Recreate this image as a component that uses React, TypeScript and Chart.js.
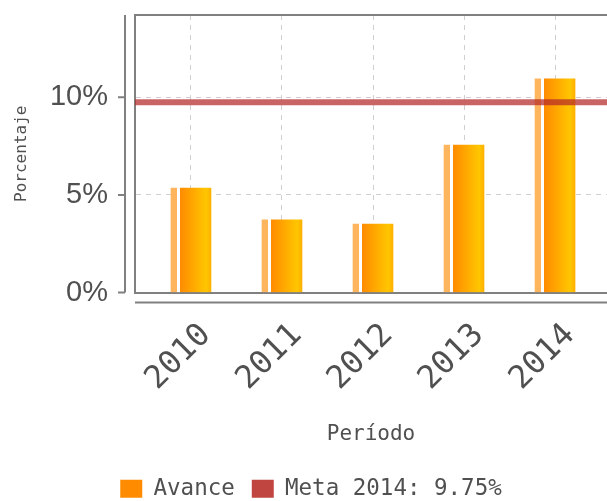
import React, { useEffect, useRef } from "react";
import { Chart, registerables } from "chart.js";

Chart.register(...registerables);

// ---- data ----
const years = ["2010", "2011", "2012", "2013", "2014"];
const avance = [5.35, 3.72, 3.5, 7.55, 10.95];
const metaValue = 9.75;
const seriesNames = ["Avance", "Meta 2014: 9.75%"];
const yTickStep = 5;
const xRange = [-0.615, 4.571];
const yRange = [0, 14.22];

// ---- styles ----
const legendColors = ["#ff8c00", "#c0443f"];
const frameColor = "#808080";
const gridColor = "#cfcfcf";
const textColor = "#505050";

const framePlugin = {
  id: "frameLines",
  afterDraw(chart: any) {
    const { ctx, chartArea: a, scales } = chart;
    ctx.save();
    ctx.strokeStyle = frameColor;
    ctx.lineWidth = 2;
    ctx.beginPath();
    ctx.moveTo(a.left, a.top);
    ctx.lineTo(a.right, a.top);
    const ax = a.left - 10;
    ctx.moveTo(ax, a.top);
    ctx.lineTo(ax, a.bottom);
    scales.y.ticks.forEach((t: any) => {
      const py = scales.y.getPixelForValue(t.value);
      ctx.moveTo(ax - 7, py);
      ctx.lineTo(ax, py);
    });
    ctx.moveTo(a.left, a.bottom + 10);
    ctx.lineTo(a.right, a.bottom + 10);
    ctx.stroke();
    ctx.restore();
  },
};

function barFill(c: any) {
  if (c.type !== "data") return legendColors[0];
  const chart = c.chart;
  const xs = chart.scales && chart.scales.x;
  if (!xs) return legendColors[0];
  const xv = c.parsed ? c.parsed.x : c.dataIndex;
  const px = xs.getPixelForValue(xv);
  const g = chart.ctx.createLinearGradient(px - 20, 0, px + 20, 0);
  g.addColorStop(0, "#ffb55e");
  g.addColorStop(0.15, "#ffb55e");
  g.addColorStop(0.15, "#ffffff");
  g.addColorStop(0.22, "#ffffff");
  g.addColorStop(0.22, "#ff8a00");
  g.addColorStop(0.88, "#ffc600");
  g.addColorStop(1, "#ffb000");
  return g;
}

export default function App() {
  const ref = useRef<HTMLCanvasElement | null>(null);

  useEffect(() => {
    document.body.style.margin = "0";
    const canvas = ref.current;
    if (!canvas) return;
    const chart = new Chart(canvas, {
      type: "bar",
      data: {
        datasets: [
          {
            type: "bar",
            label: seriesNames[0],
            data: years.map((_, i) => ({ x: i, y: avance[i] })),
            backgroundColor: barFill as any,
            borderWidth: 0,
            barThickness: 40,
            order: 1,
          } as any,
          {
            type: "line",
            label: seriesNames[1],
            data: [
              { x: xRange[0], y: metaValue },
              { x: xRange[1], y: metaValue },
            ],
            borderColor: "rgba(180,40,40,0.72)",
            backgroundColor: legendColors[1],
            borderWidth: 6,
            pointRadius: 0,
            fill: false,
            order: 0,
          } as any,
        ],
      },
      options: {
        responsive: false,
        animation: false,
        devicePixelRatio: 1,
        layout: { padding: { top: 15, left: 15, right: 0, bottom: -9 } },
        plugins: {
          tooltip: { enabled: false },
          legend: {
            position: "bottom",
            labels: {
              boxWidth: 22,
              boxHeight: 18,
              padding: 17,
              color: textColor,
              font: { family: "DejaVu Sans Mono", size: 22.5 },
              generateLabels: (ch: any) =>
                ch.data.datasets.map((ds: any, i: number) => ({
                  text: ds.label,
                  fillStyle: legendColors[i],
                  strokeStyle: legendColors[i],
                  lineWidth: 0,
                  hidden: false,
                  datasetIndex: i,
                  fontColor: textColor,
                })),
              sort: (a: any, b: any) => a.datasetIndex - b.datasetIndex,
            },
          },
        },
        scales: {
          x: {
            type: "linear",
            min: xRange[0],
            max: xRange[1],
            offset: false,
            afterFit: (s: any) => {
              s.height = 168;
              s.paddingLeft = 0;
              s.paddingRight = 0;
              s.paddingTop = 0;
              s.paddingBottom = 0;
            },
            ticks: {
              stepSize: 1,
              includeBounds: false,
              autoSkip: false,
              minRotation: 45,
              maxRotation: 45,
              padding: 24,
              labelOffset: 15,
              color: textColor,
              font: { family: "DejaVu Sans Mono", size: 32 },
              callback: (v: any) => (years[v as number] !== undefined && Number.isInteger(v) ? years[v as number] : ""),
            },
            grid: { color: gridColor, lineWidth: 1, drawTicks: false, offset: false },
            border: { display: true, color: frameColor, width: 2, dash: [5, 5] },
            title: {
              display: true,
              text: "Período",
              color: textColor,
              font: { family: "DejaVu Sans Mono", size: 21 },
              padding: { top: 0, bottom: 13 },
            },
          },
          y: {
            type: "linear",
            min: yRange[0],
            max: yRange[1],
            afterFit: (s: any) => {
              s.width = 120;
              s.paddingLeft = 0;
              s.paddingRight = 0;
              s.paddingTop = 0;
              s.paddingBottom = 0;
            },
            ticks: {
              stepSize: yTickStep,
              includeBounds: false,
              padding: 27,
              color: textColor,
              font: { family: "Liberation Sans", size: 29 },
              callback: (v: any) => v + "%",
            },
            grid: { color: gridColor, lineWidth: 1, drawTicks: false },
            border: { display: true, color: frameColor, width: 2, dash: [5, 5] },
            title: {
              display: true,
              text: "Porcentaje",
              color: textColor,
              font: { family: "DejaVu Sans Mono", size: 16 },
              padding: { top: -3, bottom: 0 },
            },
          },
        },
      } as any,
      plugins: [framePlugin],
    });
    return () => chart.destroy();
  }, []);

  return (
    <div style={{ width: 607, height: 501 }}>
      <canvas ref={ref} width={607} height={501} style={{ display: "block" }} />
    </div>
  );
}
